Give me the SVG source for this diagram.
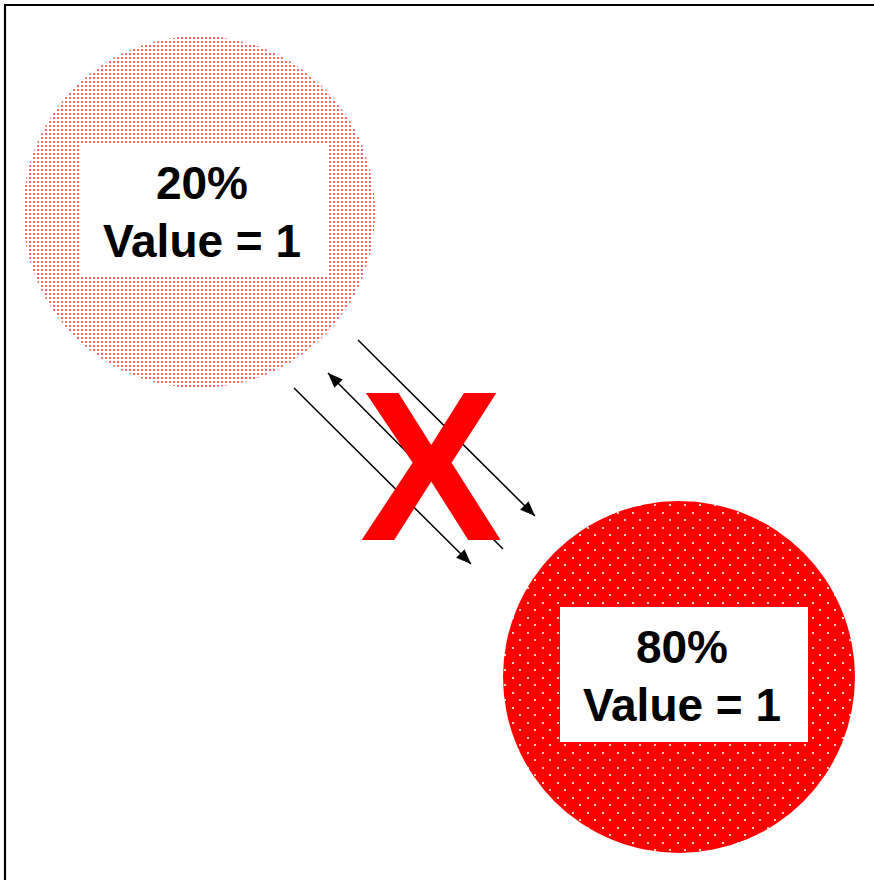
<svg xmlns="http://www.w3.org/2000/svg" width="874" height="880" viewBox="0 0 874 880">
<style>
.lbl{font-family:"Liberation Sans",Arial,sans-serif;font-weight:bold;font-size:46px;fill:#000;text-anchor:middle}
.box{fill:#fff}
.conn{stroke:#000;stroke-width:1.5;fill:none}
</style>
<defs>
<pattern id="pink" x="0" y="0" width="4" height="4" patternUnits="userSpaceOnUse">
<rect width="4" height="4" fill="#fff"/>
<rect x="1" y="1" width="2" height="2" fill="#ff6060"/>
</pattern>
<pattern id="red" x="0" y="0" width="15" height="15" patternUnits="userSpaceOnUse">
<rect width="15" height="15" fill="#ff0000"/>
<rect x="2" y="2" width="2" height="2" fill="#ffc8c8"/>
<rect x="9" y="9" width="2" height="2" fill="#ffc8c8"/>
</pattern>
<marker id="ah" viewBox="0 0 15 12" refX="15" refY="6" markerWidth="15" markerHeight="12" markerUnits="userSpaceOnUse" orient="auto-start-reverse">
<path d="M0,0 L15,6 L0,12 z" fill="#000"/>
</marker>
</defs>
<rect width="874" height="880" fill="#fff"/>
<path d="M5,880 V5 H874" fill="none" stroke="#000" stroke-width="2.2"/>
<g id="node-20">
<circle cx="199" cy="212" r="176" fill="url(#pink)"/>
<rect class="box" x="80" y="143" width="247" height="134"/>
<text class="lbl" x="202" y="199">20%</text>
<text class="lbl" x="202" y="257">Value = 1</text>
</g>
<g id="node-80">
<circle cx="679" cy="677" r="176" fill="url(#red)"/>
<rect class="box" x="560" y="607" width="248" height="135"/>
<text class="lbl" x="682" y="663">80%</text>
<text class="lbl" x="682" y="721">Value = 1</text>
</g>
<g id="connectors">
<line class="conn" x1="358" y1="340" x2="535" y2="516" marker-end="url(#ah)"/>
<line class="conn" x1="328" y1="373" x2="503" y2="549" marker-start="url(#ah)"/>
<line class="conn" x1="294" y1="388" x2="471" y2="564" marker-end="url(#ah)"/>
</g>
<g id="cross">
<text x="431" y="540" font-family="Liberation Sans, Arial, sans-serif" font-weight="bold" font-size="214" fill="#ff0000" text-anchor="middle">X</text>
</g>
</svg>
